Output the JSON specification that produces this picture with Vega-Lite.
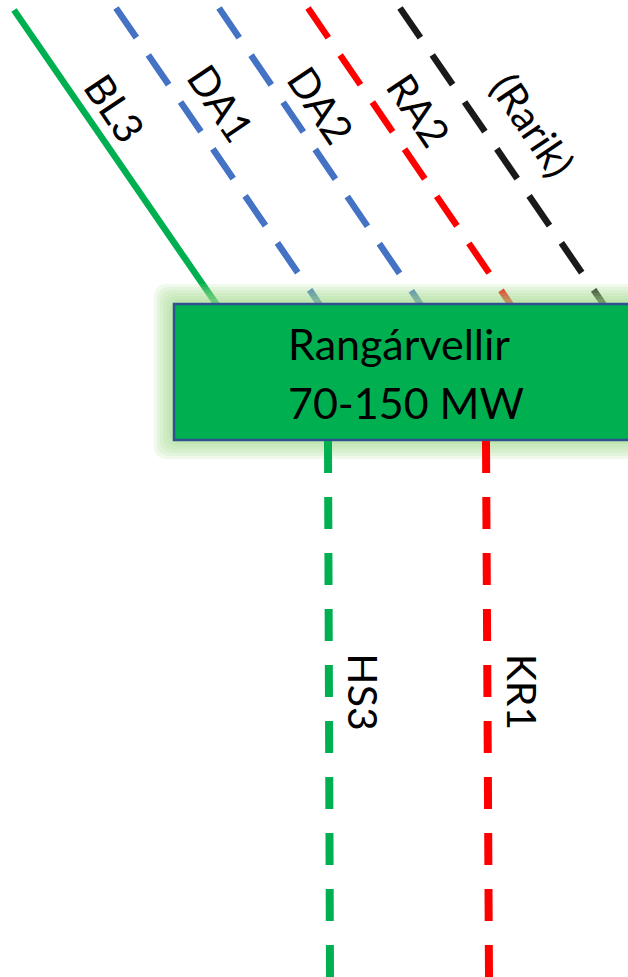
{
  "$schema": "https://vega.github.io/schema/vega-lite/v6.json",
  "width": 628,
  "height": 977,
  "autosize": "none",
  "padding": 0,
  "background": "white",
  "config": {"view": {"stroke": null}},
  "datasets": {
    "glow": [
      {"level": 1, "x": 154, "y": 284, "x2": 660, "y2": 459},
      {"level": 2, "x": 157, "y": 287, "x2": 660, "y2": 456},
      {"level": 3, "x": 160, "y": 290, "x2": 660, "y2": 453},
      {"level": 4, "x": 163, "y": 293, "x2": 660, "y2": 450},
      {"level": 5, "x": 166, "y": 296, "x2": 660, "y2": 447},
      {"level": 6, "x": 169, "y": 299, "x2": 660, "y2": 444}
    ],
    "box": [{"name": "Rangárvellir", "x": 174, "y": 304, "x2": 640, "y2": 440}],
    "diag": [
      {"name": "BL3", "style": "solid", "x": 14, "y": 10, "x2": 217, "y2": 305},
      {"name": "DA1", "style": "dashed", "x": 116, "y": 8, "x2": 320, "y2": 305},
      {"name": "DA2", "style": "dashed", "x": 219, "y": 8, "x2": 421, "y2": 305},
      {"name": "RA2", "style": "dashed", "x": 308, "y": 8, "x2": 511, "y2": 305},
      {"name": "(Rarik)", "style": "dashed", "x": 400, "y": 8, "x2": 604, "y2": 305}
    ],
    "vert": [
      {"name": "HS3", "x": 328, "y": 441, "x2": 330, "y2": 977},
      {"name": "KR1", "x": 486, "y": 441, "x2": 489, "y2": 977}
    ],
    "diagLabels": [
      {"name": "BL3", "x": 112, "y": 110},
      {"name": "DA1", "x": 218, "y": 105},
      {"name": "DA2", "x": 318, "y": 107},
      {"name": "RA2", "x": 416, "y": 112},
      {"name": "(Rarik)", "x": 530, "y": 127}
    ],
    "vertLabels": [
      {"name": "HS3", "x": 360, "y": 692},
      {"name": "KR1", "x": 519, "y": 692}
    ],
    "boxLabels": [
      {"line": "Rangárvellir", "x": 399, "y": 347},
      {"line": "70-150 MW", "x": 406, "y": 406}
    ]
  },
  "encoding": {
    "x": {"field": "x", "type": "quantitative", "scale": {"domain": [0, 628], "zero": false, "nice": false}, "axis": null},
    "y": {"field": "y", "type": "quantitative", "scale": {"domain": [0, 977], "zero": false, "nice": false, "reverse": true}, "axis": null}
  },
  "layer": [
    {
      "data": {"name": "diag"},
      "transform": [{"filter": "datum.style === 'solid'"}],
      "mark": {"type": "rule", "strokeWidth": 6.5, "color": "#00B050", "clip": true},
      "encoding": {"x2": {"field": "x2"}, "y2": {"field": "y2"}}
    },
    {
      "data": {"name": "diag"},
      "transform": [{"filter": "datum.style === 'dashed'"}],
      "mark": {"type": "rule", "strokeWidth": 6.5, "strokeDash": [36, 21], "clip": true},
      "encoding": {
        "x2": {"field": "x2"}, "y2": {"field": "y2"},
        "color": {"field": "name", "type": "nominal", "legend": null,
          "scale": {"domain": ["DA1", "DA2", "RA2", "(Rarik)", "HS3", "KR1"], "range": ["#4472C4", "#4472C4", "#FF0000", "#1A1A1A", "#00B050", "#FF0000"]}}
      }
    },
    {
      "data": {"name": "glow"},
      "mark": {"type": "rect", "fill": "#a9dc8c", "opacity": 0.17, "cornerRadius": 12, "clip": true},
      "encoding": {"x2": {"field": "x2"}, "y2": {"field": "y2"}, "detail": {"field": "level", "type": "ordinal"}}
    },
    {
      "data": {"name": "box"},
      "mark": {"type": "rect", "fill": "#00B050", "stroke": "#2F528F", "strokeWidth": 2.5, "clip": true},
      "encoding": {"x2": {"field": "x2"}, "y2": {"field": "y2"}}
    },
    {
      "data": {"name": "vert"},
      "mark": {"type": "rule", "strokeWidth": 8, "strokeDash": [32, 24], "clip": true},
      "encoding": {
        "x2": {"field": "x2"}, "y2": {"field": "y2"},
        "color": {"field": "name", "type": "nominal", "legend": null,
          "scale": {"domain": ["DA1", "DA2", "RA2", "(Rarik)", "HS3", "KR1"], "range": ["#4472C4", "#4472C4", "#FF0000", "#1A1A1A", "#00B050", "#FF0000"]}}
      }
    },
    {
      "data": {"name": "diagLabels"},
      "mark": {"type": "text", "font": "Lato", "fontSize": 41, "angle": 56, "align": "center", "baseline": "middle", "color": "#000000"},
      "encoding": {"text": {"field": "name"}}
    },
    {
      "data": {"name": "vertLabels"},
      "mark": {"type": "text", "font": "Lato", "fontSize": 41, "angle": 90, "align": "center", "baseline": "middle", "color": "#000000"},
      "encoding": {"text": {"field": "name"}}
    },
    {
      "data": {"name": "boxLabels"},
      "mark": {"type": "text", "font": "Lato", "fontSize": 43, "align": "center", "baseline": "middle", "color": "#000000"},
      "encoding": {"text": {"field": "line"}}
    }
  ]
}
